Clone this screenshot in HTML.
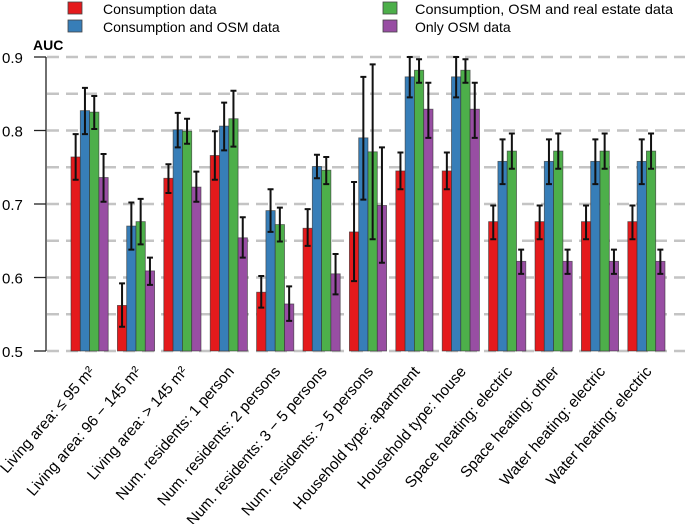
<!DOCTYPE html>
<html><head><meta charset="utf-8"><style>
body{margin:0;background:#fff;}
svg{display:block;font-family:"Liberation Sans","DejaVu Sans",sans-serif;}
</style></head><body>
<svg id="chart" width="685" height="524" viewBox="0 0 685 524" xmlns="http://www.w3.org/2000/svg">
<g id="legend">
<g><rect x="68" y="2" width="14" height="12" fill="#e41a1c" stroke="#444" stroke-width="0.8"/><text x="103" y="14" font-size="14">Consumption data</text></g>
<g><rect x="68" y="20" width="14" height="12" fill="#377eb8" stroke="#444" stroke-width="0.8"/><text x="103" y="32" font-size="14">Consumption and OSM data</text></g>
<g><rect x="383" y="2" width="14" height="12" fill="#4daf4a" stroke="#444" stroke-width="0.8"/><text x="415" y="14" font-size="14" textLength="258" lengthAdjust="spacingAndGlyphs">Consumption, OSM and real estate data</text></g>
<g><rect x="383" y="20" width="14" height="12" fill="#984ea3" stroke="#444" stroke-width="0.8"/><text x="415" y="32" font-size="14">Only OSM data</text></g>
</g>
<text x="33" y="50" font-size="14" font-weight="bold">AUC</text>
<g id="grid"></g><g id="bars"></g><g id="axis"></g><g id="labels"></g>
</svg>
<script>
const categories=["Living area: \u2264 95 m\u00b2","Living area: 96 \u2212 145 m\u00b2","Living area: > 145 m\u00b2","Num. residents: 1 person","Num. residents: 2 persons","Num. residents: 3 \u2212 5 persons","Num. residents: > 5 persons","Household type: apartment","Household type: house","Space heating: electric","Space heating: other","Water heating: electric","Water heating: electric"];
const seriesNames=["Consumption data","Consumption and OSM data","Consumption, OSM and real estate data","Only OSM data"];
const consumption=[0.764,0.562,0.735,0.766,0.580,0.667,0.662,0.745,0.745,0.676,0.676,0.676,0.676];
const consumptionLo=[0.733,0.533,0.715,0.733,0.559,0.643,0.595,0.720,0.720,0.652,0.652,0.652,0.652];
const consumptionHi=[0.795,0.592,0.754,0.799,0.602,0.693,0.730,0.770,0.770,0.698,0.698,0.698,0.698];
const consOsm=[0.827,0.670,0.801,0.806,0.691,0.751,0.790,0.873,0.873,0.758,0.758,0.758,0.758];
const consOsmLo=[0.795,0.638,0.777,0.773,0.662,0.735,0.706,0.845,0.845,0.727,0.727,0.727,0.727];
const consOsmHi=[0.858,0.702,0.824,0.838,0.720,0.767,0.873,0.900,0.900,0.788,0.788,0.788,0.788];
const consOsmRe=[0.825,0.676,0.799,0.816,0.672,0.746,0.771,0.882,0.882,0.772,0.772,0.772,0.772];
const consOsmReLo=[0.802,0.645,0.782,0.778,0.649,0.727,0.652,0.865,0.865,0.748,0.748,0.748,0.748];
const consOsmReHi=[0.847,0.707,0.816,0.854,0.695,0.764,0.890,0.897,0.897,0.796,0.796,0.796,0.796];
const onlyOsm=[0.736,0.609,0.723,0.654,0.564,0.605,0.698,0.829,0.829,0.622,0.622,0.622,0.622];
const onlyOsmLo=[0.703,0.590,0.703,0.627,0.541,0.577,0.620,0.790,0.790,0.605,0.605,0.605,0.605];
const onlyOsmHi=[0.768,0.627,0.744,0.682,0.588,0.632,0.777,0.865,0.865,0.638,0.638,0.638,0.638];
const yTicks=[0.5,0.6,0.7,0.8,0.9];
const yTickLabels=["0.5","0.6","0.7","0.8","0.9"];
const gridVals=[0.55,0.6,0.65,0.7,0.75,0.8,0.85,0.9];

const NS="http://www.w3.org/2000/svg";
const colors=["#e41a1c","#377eb8","#4daf4a","#984ea3"];
const vals=[consumption,consOsm,consOsmRe,onlyOsm];
const los=[consumptionLo,consOsmLo,consOsmReLo,onlyOsmLo];
const his=[consumptionHi,consOsmHi,consOsmReHi,onlyOsmHi];
const keys=["consumption","consumption-osm","consumption-osm-real-estate","only-osm"];
const y0=351,y1=57,vmin=0.5,vmax=0.9;
function yS(v){return y0-(v-vmin)/(vmax-vmin)*(y0-y1);}
const gx0=71,gStep=46.4,bw=9.3;
function xS(i,s){return gx0+i*gStep+s*bw;}
function mk(tag,attrs,parent){const e=document.createElementNS(NS,tag);for(const k in attrs)e.setAttribute(k,attrs[k]);parent.appendChild(e);return e;}
const grid=document.getElementById('grid'),bars=document.getElementById('bars'),axis=document.getElementById('axis'),labels=document.getElementById('labels');
gridVals.forEach(v=>{const l=mk('line',{x1:47,x2:685,y1:yS(v),y2:yS(v),stroke:'#c4c4c4','stroke-width':2.5,'stroke-dasharray':'12,7'},grid);

});
const bl=mk('line',{x1:47,x2:685,y1:yS(0.5),y2:yS(0.5),stroke:'#c4c4c4','stroke-width':2.5,'stroke-dasharray':'12,7'},grid);


categories.forEach((c,i)=>{
 for(let s=0;s<4;s++){
  const x=xS(i,s),v=vals[s][i];
  const r=mk('rect',{x:x,y:yS(v),width:bw,height:yS(vmin)-yS(v),fill:colors[s],stroke:'#333','stroke-opacity':0.7,'stroke-width':0.8},bars);
  
  
  const cx=x+bw/2,ylo=yS(los[s][i]),yhi=yS(his[s][i]);
  const e=mk('path',{d:`M${cx},${ylo}V${yhi}M${cx-3},${ylo}H${cx+3}M${cx-3},${yhi}H${cx+3}`,stroke:'#111','stroke-width':2,fill:'none'},bars);
  
  
 }
 const cx=xS(i,2)+6;
 const t=mk('text',{x:0,y:0,'font-size':15.3,'text-anchor':'end',transform:`translate(${cx},372) rotate(-49)`},labels);
 t.textContent=c;
 
 
});
const al=mk('line',{x1:46,x2:46,y1:yS(0.9),y2:yS(0.5),stroke:'#222','stroke-width':1.3},axis);


yTicks.forEach((v,k)=>{
 const tk=mk('line',{x1:34,x2:46,y1:yS(v),y2:yS(v),stroke:'#222','stroke-width':1.3},axis);
 
 
 const t=mk('text',{x:2,y:yS(v)+6,'font-size':15},axis);
 t.textContent=yTickLabels[k];
 
 
});
</script>
</body></html>
